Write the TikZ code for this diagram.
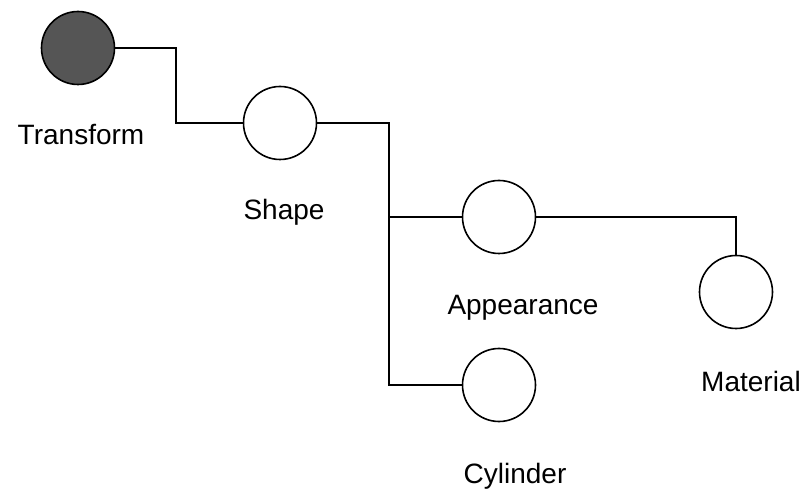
\documentclass[tikz,border=0pt]{standalone}
\usepackage{fontspec}
\setmainfont{Liberation Sans}
\usepackage{xcolor}
\usetikzlibrary{positioning,calc}
\definecolor{NodeFill}{HTML}{555555}

\begin{document}
\begin{tikzpicture}[x=1pt,y=-1pt,line width=1.6pt,
 vnode/.style={draw,circle,minimum size=73pt,inner sep=0pt,fill=white},
 vlabel/.style={anchor=base,font=\fontsize{28}{32}\selectfont}]
\useasboundingbox (0,0) rectangle (806,494);
\node[vnode,fill=NodeFill] (transform) at (78,48) {};
\node[vnode] (shape) at (280,123) {};
\node[vnode] (appearance) at (499,217) {};
\node[vnode] (cylinder) at (499,385) {};
\node[vnode] (material) at (736,292) {};
\node[vlabel] (transformlbl) at (81,145) {Transform};
\node[vlabel] (shapelbl) at (284,220) {Shape};
\node[vlabel] (appearancelbl) at (523,315) {Appearance};
\node[vlabel] (cylinderlbl) at (515,483) {Cylinder};
\node[vlabel] (materiallbl) at (751,391) {Material};
\coordinate (tj) at (176,48);
\coordinate (sj) at (389,123);
\draw (transform.east) -- (tj) |- (shape.west);
\draw (shape.east) -- (sj) |- (appearance.west);
\draw (sj) |- (cylinder.west);
\draw (appearance.east) -| (material.north);
\end{tikzpicture}
\end{document}
